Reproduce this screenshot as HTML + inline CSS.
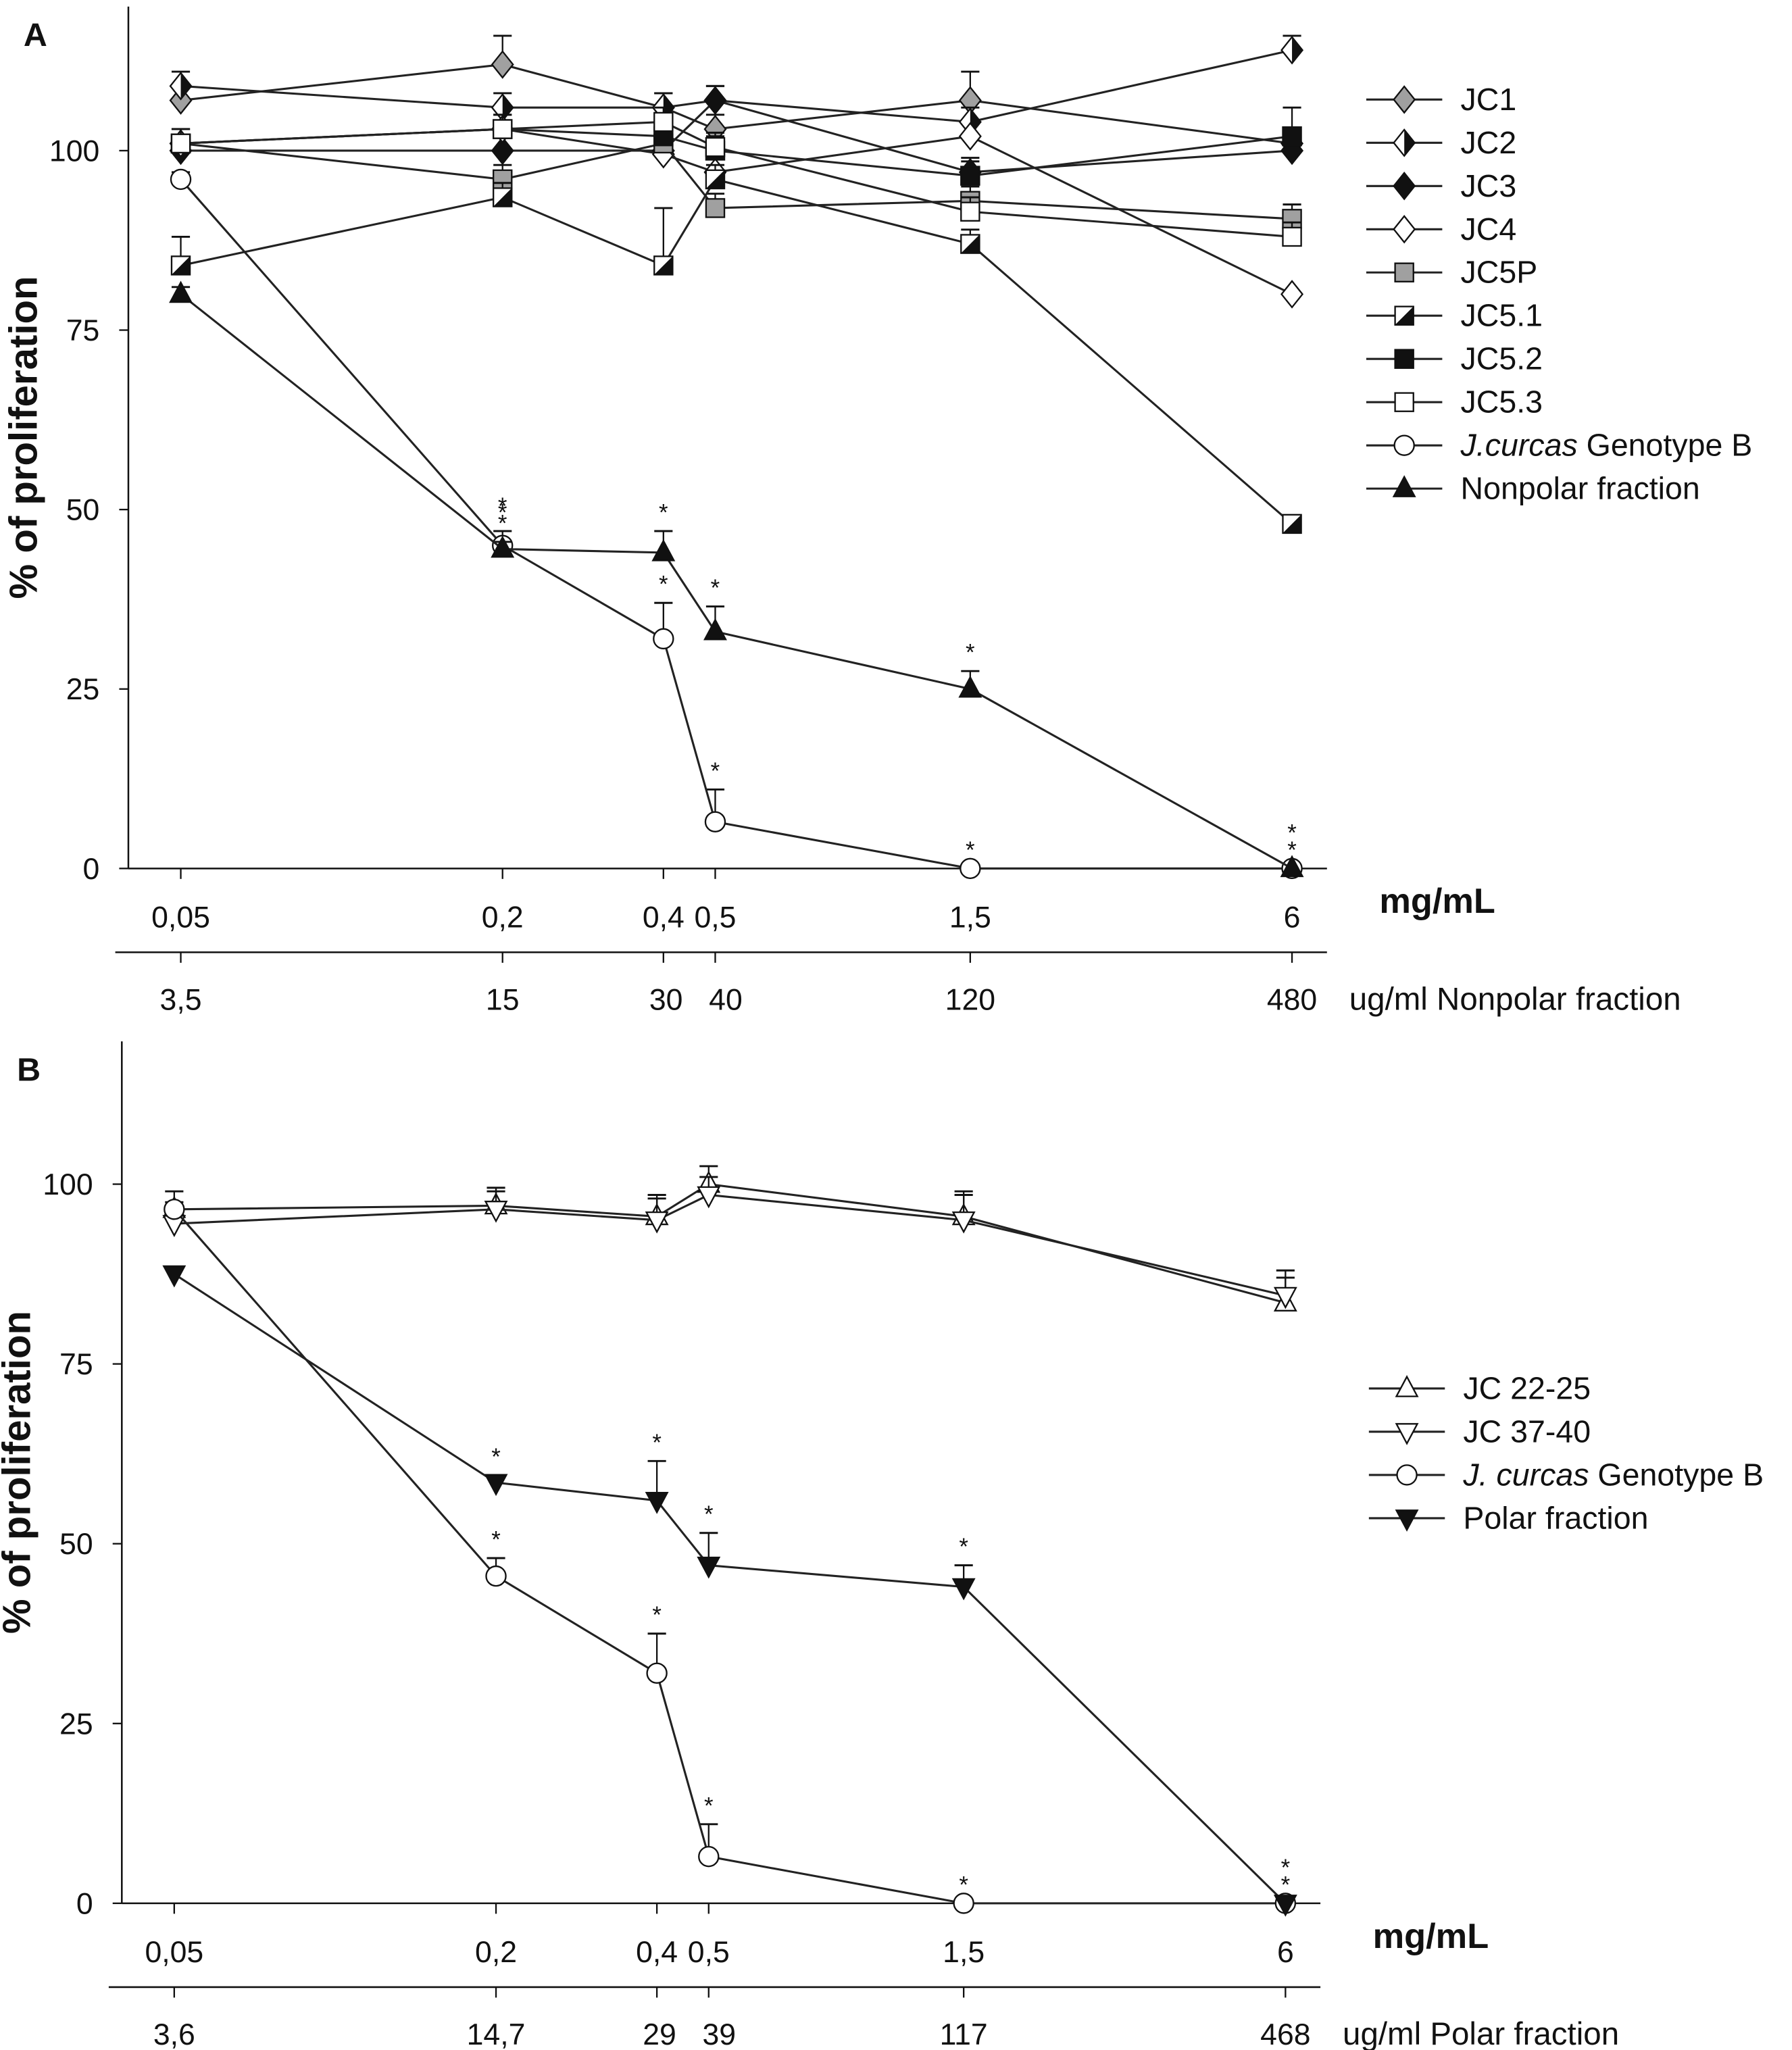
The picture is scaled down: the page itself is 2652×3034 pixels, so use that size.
<!DOCTYPE html>
<html><head><meta charset="utf-8"><style>
html,body{margin:0;padding:0;background:#fff}
svg{display:block}
text{font-family:"Liberation Sans",Arial,sans-serif;fill:#111}
</style></head><body>
<svg id="chart" width="2652" height="3034" viewBox="0 0 1368 1565" preserveAspectRatio="none" xmlns="http://www.w3.org/2000/svg"></svg>
<script>
// ---- data ----
const concentrationsMg = [0.05, 0.2, 0.4, 0.5, 1.5, 6];
const tickLabelsMg = ["0,05","0,2","0,4","0,5","1,5","6"];
const tickLabelsNonpolar = ["3,5","15","30","40","120","480"];
const tickLabelsPolar = ["3,6","14,7","29","39","117","468"];
const yTicks = [0, 25, 50, 75, 100];

const namesA = ["JC1","JC2","JC3","JC4","JC5P","JC5.1","JC5.2","JC5.3","J.curcas Genotype B","Nonpolar fraction"];
const jc1 = [107, 112, 106, 103, 107, 101];
const jc2 = [109, 106, 106, 107, 104, 114];
const jc3 = [100, 100, 100, 107, 97, 100];
const jc4 = [101, 103, 99.5, 97, 102, 80];
const jc5p = [101, 96, 101, 92, 93, 90.5];
const jc51 = [84, 93.5, 84, 96, 87, 48];
const jc52 = [101, 103, 102, 100, 96.5, 102];
const jc53 = [101, 103, 104, 100.5, 91.5, 88];
const genoBA = [96, 45, 32, 6.5, 0, 0];
const nonpolar = [80, 44.5, 44, 33, 25, 0];
const errA_jc1 = [2, 4, 2, 2, 4, 2];
const errA_jc51 = [4, 2, 8, 2, 2, 1];
const errA_geno = [1, 2, 5, 4.5, 0, 0];
const errA_nonpolar = [1, 1, 3, 3.5, 2.5, 0];

const namesB = ["JC 22-25","JC 37-40","J. curcas Genotype B","Polar fraction"];
const jc2225 = [96.5, 97, 95.5, 100, 95.5, 83.5];
const jc3740 = [94.5, 96.5, 95, 98.5, 95, 84.5];
const genoBB = [96.5, 45.5, 32, 6.5, 0, 0];
const polar = [87.5, 58.5, 56, 47, 44, 0];
const errB_top = [2.5, 2.5, 3, 2.5, 3.5, 3.5];
const errB_geno = [1, 2.5, 5.5, 4.5, 0, 0];
const errB_polar = [1, 1, 5.5, 4.5, 3, 0];

const NS = "http://www.w3.org/2000/svg";
const svg = document.getElementById("chart");
function el(tag, attrs, parent){const e=document.createElementNS(NS,tag);for(const k in attrs)e.setAttribute(k,attrs[k]);(parent||svg).appendChild(e);return e;}
function txt(s, x, y, attrs, parent){const t=el("text",Object.assign({x:x,y:y},attrs),parent);t.textContent=s;return t;}

function marker(g, type, x, y){
  const r=8;let m;
  const st={stroke:"#111","stroke-width":1.2};
  if(type.startsWith("diamond")){
    const pts=`${x},${y-r-2} ${x+r},${y} ${x},${y+r+2} ${x-r},${y}`;
    const fill=type==="diamond-grey"?"#a0a0a0":type==="diamond-black"?"#111":"#fff";
    m=el("polygon",Object.assign({points:pts,fill:fill},st),g);
    if(type==="diamond-half"){el("polygon",{points:`${x},${y-r-2} ${x+r},${y} ${x},${y+r+2}`,fill:"#111"},g);}
  } else if(type.startsWith("square")){
    const fill=type==="square-grey"?"#a0a0a0":type==="square-black"?"#111":"#fff";
    m=el("rect",Object.assign({x:x-7,y:y-7,width:14,height:14,fill:fill},st),g);
    if(type==="square-half"){el("polygon",{points:`${x+7},${y-7} ${x+7},${y+7} ${x-7},${y+7}`,fill:"#111"},g);}
  } else if(type==="circle"){
    m=el("circle",Object.assign({cx:x,cy:y,r:7.5,fill:"#fff"},st),g);
  } else if(type==="tri-up-black"||type==="tri-up"){
    m=el("polygon",Object.assign({points:`${x},${y-9} ${x+8},${y+6} ${x-8},${y+6}`,fill:type==="tri-up"?"#fff":"#111"},st),g);
  } else {
    m=el("polygon",Object.assign({points:`${x},${y+9} ${x+8},${y-6} ${x-8},${y-6}`,fill:type==="tri-down"?"#fff":"#111"},st),g);
  }
  return m;
}

function panel(cfg){
  const g=el("g",{});
  
  
  const x0=cfg.x0, y0=cfg.y0, per=cfg.per;
  const xs=v=>x0+(Math.log10(v)-Math.log10(0.05))*408;
  const ys=v=>y0-v*per;
  const ya=el("line",{x1:cfg.ax,y1:cfg.top,x2:cfg.ax,y2:y0,stroke:"#111","stroke-width":1.3},g);
  
  const xa=el("line",{x1:cfg.ax,y1:y0,x2:cfg.ax+915,y2:y0,stroke:"#111","stroke-width":1.3},g);
  
  yTicks.forEach(t=>{
    el("line",{x1:cfg.ax-7,y1:ys(t),x2:cfg.ax,y2:ys(t),stroke:"#111","stroke-width":1.2},g);
    const l=txt(String(t),cfg.ax-22,ys(t)+8,{"font-size":23,"text-anchor":"end"},g);
    
  });
  concentrationsMg.forEach((c,i)=>{
    el("line",{x1:xs(c),y1:y0,x2:xs(c),y2:y0+8,stroke:"#111","stroke-width":1.2},g);
    const l=txt(tickLabelsMg[i],xs(c),y0+45,{"font-size":23,"text-anchor":"middle"},g);
    
  });
  const y2=y0+64;
  const xa2=el("line",{x1:cfg.ax-10,y1:y2,x2:cfg.ax+915,y2:y2,stroke:"#111","stroke-width":1.3},g);
  
  concentrationsMg.forEach((c,i)=>{
    el("line",{x1:xs(c),y1:y2,x2:xs(c),y2:y2+8,stroke:"#111","stroke-width":1.2},g);
    const l=txt(cfg.ug[i],xs(c)+(i===2?2:i===3?8:0),y2+44,{"font-size":23,"text-anchor":"middle"},g);
    
  });
  const u=txt(cfg.ugTitle,cfg.ax+932,y2+44,{"font-size":24.5},g);
  
  const mg=txt("mg/mL",cfg.ax+955,y0+34,{"font-size":27,"font-weight":"bold"},g);
  
  const yt=txt("% of proliferation",0,0,{"font-size":30,"font-weight":"bold","text-anchor":"middle",transform:`translate(${cfg.ax-70},${(cfg.top+y0)/2}) rotate(-90)`},g);
  
  const pl=txt(cfg.letter,cfg.ax-80,cfg.top+30,{"font-size":25,"font-weight":"bold"},g);
  
  cfg.series.forEach(s=>{
    const sg=el("g",{},g);
    
    
    if(s.err){s.vals.forEach((v,i)=>{if(s.err[i]>0){const x=xs(concentrationsMg[i]);el("line",{x1:x,y1:ys(v),x2:x,y2:ys(v+s.err[i]),stroke:"#111","stroke-width":1.2},sg);el("line",{x1:x-7,y1:ys(v+s.err[i]),x2:x+7,y2:ys(v+s.err[i]),stroke:"#111","stroke-width":1.5},sg);}});}
    const pts=s.vals.map((v,i)=>xs(concentrationsMg[i])+","+ys(v)).join(" ");
    const pl=el("polyline",{points:pts,fill:"none",stroke:"#222","stroke-width":1.6},sg);
    
    s.vals.forEach((v,i)=>{const m=marker(sg,s.type,xs(concentrationsMg[i]),ys(v));
      });
    if(s.stars){s.vals.forEach((v,i)=>{const n=s.stars[i];for(let k=0;k<n;k++){const st=txt("*",xs(concentrationsMg[i]),ys(v+(s.err?s.err[i]:0))-8-k*13+(s.starOff||0),{"font-size":18,"text-anchor":"middle"},sg);}});}
  });
  cfg.legend.forEach((L,i)=>{
    const lg=el("g",{},g);
    
    
    const ly=cfg.legY+i*33;
    el("line",{x1:cfg.legX,y1:ly,x2:cfg.legX+58,y2:ly,stroke:"#222","stroke-width":1.6},lg);
    marker(lg,L[1],cfg.legX+29,ly);
    const t=el("text",{x:cfg.legX+72,y:ly+8,"font-size":24},lg);
    if(L[0].startsWith("J.")){const ii=L[0].indexOf(" Genotype");const a=el("tspan",{"font-style":"italic"},t);a.textContent=L[0].slice(0,ii);const b=el("tspan",{},t);b.textContent=L[0].slice(ii);}
    else t.textContent=L[0];
  });
}

panel({name:"panel-a",letter:"A",ax:98,x0:138,y0:663,top:5,per:5.48,ug:tickLabelsNonpolar,ugTitle:"ug/ml Nonpolar fraction",
 legX:1043,legY:76,
 legend:[[namesA[0],"diamond-grey"],[namesA[1],"diamond-half"],[namesA[2],"diamond-black"],[namesA[3],"diamond-white"],[namesA[4],"square-grey"],[namesA[5],"square-half"],[namesA[6],"square-black"],[namesA[7],"square-white"],[namesA[8],"circle"],[namesA[9],"tri-up-black"]],
 series:[
  {key:"jc1",vals:jc1,type:"diamond-grey",err:errA_jc1},
  {key:"jc2",vals:jc2,type:"diamond-half",err:[2,2,2,2,2,2]},
  {key:"jc3",vals:jc3,type:"diamond-black",err:[2,2,2,2,2,2]},
  {key:"jc4",vals:jc4,type:"diamond-white"},
  {key:"jc5p",vals:jc5p,type:"square-grey",err:[2,2,2,2,2,2]},
  {key:"jc51",vals:jc51,type:"square-half",err:errA_jc51},
  {key:"jc52",vals:jc52,type:"square-black",err:[2,2,2,2,2,4]},
  {key:"jc53",vals:jc53,type:"square-white",err:[2,2,2,2,2,2]},
  {key:"genotype-b",vals:genoBA,type:"circle",err:errA_geno,stars:[0,1,1,1,1,0]},
  {key:"nonpolar",vals:nonpolar,type:"tri-up-black",err:errA_nonpolar,stars:[0,2,1,1,1,2]}
 ]});

panel({name:"panel-b",letter:"B",ax:93,x0:133,y0:1453,top:795,per:5.49,ug:tickLabelsPolar,ugTitle:"ug/ml Polar fraction",
 legX:1045,legY:1060,
 legend:[[namesB[0],"tri-up"],[namesB[1],"tri-down"],[namesB[2],"circle"],[namesB[3],"tri-down-black"]],
 series:[
  {key:"jc22-25",vals:jc2225,type:"tri-up",err:errB_top},
  {key:"jc37-40",vals:jc3740,type:"tri-down",err:errB_top},
  {key:"genotype-b",vals:genoBB,type:"circle",err:errB_geno,stars:[0,1,1,1,1,0]},
  {key:"polar",vals:polar,type:"tri-down-black",err:errB_polar,stars:[0,1,1,1,1,2]}
 ]});
</script>
</body></html>
